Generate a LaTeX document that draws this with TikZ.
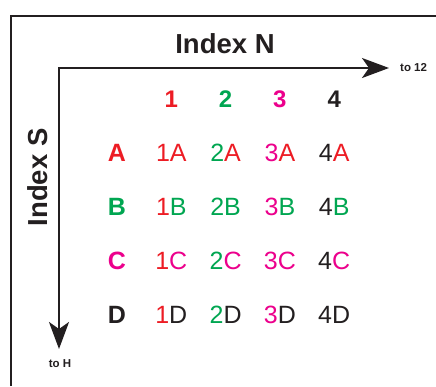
\documentclass[tikz,border=0pt]{standalone}
\usepackage{fontspec}
\setmainfont{Liberation Sans}
\usetikzlibrary{arrows.meta}
\definecolor{cred}{HTML}{ED1C24}
\definecolor{cgreen}{HTML}{00A651}
\definecolor{cmag}{HTML}{EC008C}
\definecolor{cblack}{HTML}{231F20}
\tikzset{
  frameline/.style={line width=2.2pt, draw=cblack, line join=miter},
  axisline/.style={line width=2pt, draw=cblack, line join=miter,
    arrows={Stealth[length=27pt,width=20pt,inset=7pt]-Stealth[length=27pt,width=20pt,inset=7pt]}},
  axistitle/.style={anchor=base, text=cblack, inner sep=0pt,
    font=\fontsize{27.5}{30}\selectfont\bfseries},
  axisnote/.style={text=cblack, inner sep=0pt,
    font=\fontsize{11.5}{13}\selectfont\bfseries},
  headlab/.style={anchor=base, inner sep=0pt,
    font=\fontsize{24}{26}\selectfont\bfseries},
  rowlab/.style={anchor=base, inner sep=0pt,
    font=\fontsize{25}{27}\selectfont\bfseries},
  celllab/.style={anchor=base, inner sep=0pt,
    font=\fontsize{25}{27}\selectfont},
}
\begin{document}
\begin{tikzpicture}[x=1pt,y=-1pt]
\useasboundingbox (0,0) rectangle (436,386);
\fill[white] (0,0) rectangle (436,386);

% outer frame, running off the right and bottom edges
\draw[frameline] (11,386) -- (11,16) -- (436,16);

% axes
\coordinate (origin) at (59,68);
\coordinate (nend) at (389,68);
\coordinate (send) at (59,349);
\draw[axisline] (nend) -- (origin) -- (send);

\node[axistitle] (titleN) at (225,53) {Index N};
\node[axistitle, rotate=90] (titleS) at (47,177.5) {Index S};
\node[axisnote, anchor=west] (to12) at (400,68) {to 12};
\node[axisnote, anchor=north] (toH) at (60,359) {to H};

% column headers
\foreach \col/\cc [count=\i] in {1/cred,2/cgreen,3/cmag,4/cblack}
  \node[headlab, text=\cc] (h\col) at ({117+54.3*\i},107) {\col};

% row labels and cells
\foreach \row/\rc [count=\j] in {A/cred,B/cgreen,C/cmag,D/cblack}{
  \node[rowlab, text=\rc] (r\row) at (117,{161+54*(\j-1)}) {\row};
  \foreach \col/\cc [count=\i] in {1/cred,2/cgreen,3/cmag,4/cblack}
    \node[celllab] (c\col\row) at ({117+54.3*\i},{161+54*(\j-1)})
      {\textcolor{\cc}{\col}\textcolor{\rc}{\row}};
}
\end{tikzpicture}
\end{document}
